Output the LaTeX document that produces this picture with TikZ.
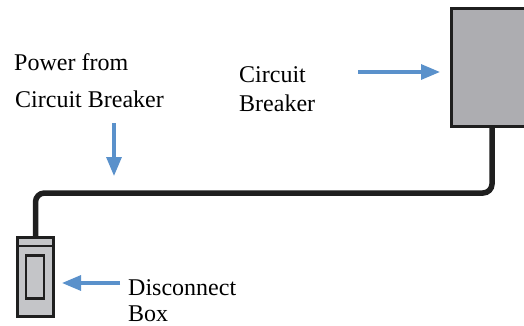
\documentclass[tikz,border=0pt]{standalone}
\usepackage{fontspec}
\setmainfont{Liberation Serif}
\usetikzlibrary{arrows.meta}
\definecolor{arrowblue}{HTML}{5A91CB}
\definecolor{breakergray}{HTML}{ADADB1}
\definecolor{boxgray}{HTML}{C4C5C8}
\tikzset{
	label/.style={anchor=base west, inner sep=0pt, font=\fontsize{24}{28}\selectfont},
	pointer/.style={arrowblue, line width=3.2pt, -{Triangle[length=19pt,width=15pt]}},
	cable/.style={line width=5.5pt, color=black!88, rounded corners=9pt}
}
\begin{document}
\begin{tikzpicture}[x=1pt, y=-1pt]
		\useasboundingbox (0,0) rectangle (524,326);
		
		\node (breaker) at (492, 67.5) [draw=black!88, line width=3pt, fill=breakergray, minimum width=81pt, minimum height=117pt, inner sep=0pt]{};
		\node (discbox) at (35.5, 277) [draw=black!88, line width=3pt, fill=boxgray, minimum width=36pt, minimum height=79pt, inner sep=0pt]{};
		\draw[black!88, line width=2.5pt] (discbox.west |- 0,246) -- (discbox.east |- 0,246);
		\node (handle) at (35, 277) [draw=black!88, line width=2.5pt, fill=boxgray, minimum width=18pt, minimum height=43pt, inner sep=0pt]{};
		
		\coordinate (bend) at (35.5, 193);
		\draw[cable] (breaker.south) |- (bend) -- (discbox.north);
		
		\node (power) at (14, 71) [label]{Power from};
		\node (source) at (15, 107) [label]{Circuit Breaker};
		\node (cbtop) at (239, 83) [label]{Circuit};
		\node (cbbot) at (239, 112) [label]{Breaker};
		\node (disc) at (128, 295) [label]{Disconnect};
		\node (box) at (128, 321) [label]{Box};
		
		\coordinate (downtail) at (114, 123);
		\coordinate (downtip) at (114, 176);
		\coordinate (cbtail) at (358, 72);
		\coordinate (cbtip) at (440, 72);
		\coordinate (disctail) at (120, 283);
		\coordinate (disctip) at (62, 283);
		\draw[pointer] (downtail) -- (downtip);
		\draw[pointer] (cbtail) -- (cbtip);
		\draw[pointer] (disctail) -- (disctip);
	\end{tikzpicture}
\end{document}
